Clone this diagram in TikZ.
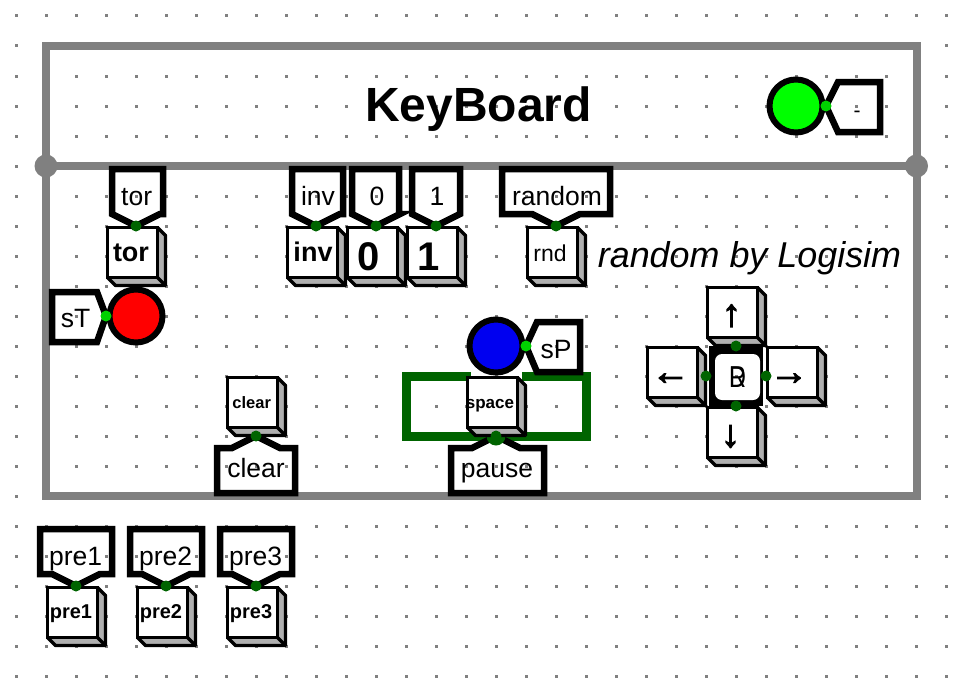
\documentclass[tikz,border=0pt]{standalone}
\usepackage{fontspec}
\setmainfont{Liberation Sans}
\newfontfamily\arrowfont[FakeBold=3]{Liberation Sans}
\definecolor{gridgray}{HTML}{808080}
\definecolor{framegray}{HTML}{808080}
\definecolor{shade}{HTML}{B0B0B0}
\definecolor{wiregreen}{HTML}{006400}
\definecolor{pingreen}{HTML}{00D200}
\tikzset{
  frameline/.style={draw=framegray,line width=8pt},
  tunnelline/.style={draw=black,line width=6.5pt,miter limit=10,line join=miter},
  keyface/.style={draw=black,fill=white,line width=3.4pt},
  keyside/.style={draw=black,fill=shade,line width=3.4pt,line join=round},
  led/.style={draw=black,line width=6pt},
  pindark/.style={fill=wiregreen,circle,inner sep=0pt,minimum size=11pt},
  pinbright/.style={fill=pingreen,circle,inner sep=0pt,minimum size=11pt},
  lab/.style={inner sep=0pt,anchor=base,font=\fontsize{26.5}{30}\selectfont},
  keylab/.style={inner sep=0pt,anchor=base},
  wire/.style={draw=wiregreen,line width=9pt,line join=miter}
}
% key body: #1 left, #2 top
\newcommand{\keybody}[2]{%
  \pgfmathsetmacro{\kl}{#1+1.5}\pgfmathsetmacro{\kr}{#1+51.5}%
  \pgfmathsetmacro{\kt}{#2+1.5}\pgfmathsetmacro{\kb}{#2+51.5}%
  \pgfmathsetmacro{\kR}{#1+59.5}\pgfmathsetmacro{\kB}{#2+59.5}%
  \path[keyside] (\kr,\kt) -- (\kR,\kt+8) -- (\kR,\kB) -- (\kl+8,\kB) -- (\kl,\kb) -- cycle;
  \draw[keyside] (\kr,\kb) -- (\kR,\kB);
  \path[keyface] (\kl,\kt) rectangle (\kr,\kb);
}
% labelled key: #1 name, #2 left, #3 top, #4 font, #5 label x, #6 baseline, #7 text
\newcommand{\keybtn}[7]{%
  \keybody{#2}{#3}
  \node[keylab,font=#4] (#1) at (#5,#6) {#7};
}
% arrow key: label centred on a point
\newcommand{\arrowkey}[6]{%
  \keybody{#2}{#3}
  \node[inner sep=0pt,font=\arrowfont\fontsize{38}{40}\selectfont] (#1) at (#4,#5) {#6};
}
% down-pointing tunnel: #1 name, #2 tip x, #3 tip y, #4 left, #5 right, #6 label x, #7 text
\newcommand{\tundown}[7]{%
  \pgfmathsetmacro{\tt}{#3-57}\pgfmathsetmacro{\ts}{#3-12}\pgfmathsetmacro{\tby}{#3-21}%
  \path[tunnelline] (#4,\tt) -- (#5,\tt) -- (#5,\ts) -- (#2+24,\ts) -- (#2,#3) -- (#2-24,\ts) -- (#4,\ts) -- cycle;
  \node[lab] (#1) at (#6,\tby) {#7};
}
\newcommand{\tunup}[7]{%
  \pgfmathsetmacro{\tt}{#3+57}\pgfmathsetmacro{\ts}{#3+12}\pgfmathsetmacro{\tby}{#3+41}%
  \path[tunnelline] (#4,\tt) -- (#5,\tt) -- (#5,\ts) -- (#2+24,\ts) -- (#2,#3) -- (#2-24,\ts) -- (#4,\ts) -- cycle;
  \node[lab] (#1) at (#6,\tby) {#7};
}
\begin{document}
\begin{tikzpicture}[x=1pt,y=-1pt]
\useasboundingbox (0,0) rectangle (963,693);
\fill[white] (0,0) rectangle (963,693);
% grid
\foreach \gx in {16,46,...,946} \foreach \gy in {16,46,...,676}
  \fill[gridgray] (\gx-1.5,\gy-1.5) rectangle (\gx+1.5,\gy+1.5);
% frame
\draw[frameline] (46,46) rectangle (916.5,496);
\draw[frameline] (46,166) -- (916.5,166);
\fill[framegray] (46,166) circle (11.5) (916.5,166) circle (11.5);
\node[inner sep=0pt,anchor=base,font=\fontsize{48}{52}\bfseries\selectfont] (title) at (478.5,121) {KeyBoard};
% wires
\draw[wire] (470.5,376.5) -- (406.5,376.5) -- (406.5,436.5) -- (586.5,436.5) -- (586.5,376.5) -- (522,376.5);
% tunnels above the keys
\tundown{ltor}{136}{226}{112}{163}{136.7}{tor}
\tundown{linv}{316}{226}{292}{343}{318}{inv}
\tundown{lzero}{376}{226}{352}{399}{377}{0}
\tundown{lone}{436}{226}{412}{460}{437}{1}
\tundown{lrandom}{556}{226}{502}{610}{557}{random}
\tundown{lpreone}{76}{586}{40}{112}{75.7}{pre1}
\tundown{lpretwo}{166}{586}{130}{202}{165.7}{pre2}
\tundown{lprethree}{256}{586}{220}{292}{255.7}{pre3}
% tunnels below the keys
\tunup{lclear}{256}{436}{217}{295}{256}{clear}
\tunup{lpause}{496}{436}{451}{544}{497}{pause}
\fill[wiregreen] (496,436) circle (9.5);
% side tunnels
\path[tunnelline] (106,316) -- (97,342) -- (52,342) -- (52,292) -- (97,292) -- cycle;
\node[lab] (lst) at (75.7,327) {sT};
\path[tunnelline] (526,346) -- (537,372) -- (580,372) -- (580,322) -- (537,322) -- cycle;
\node[lab] (lsp) at (556,358) {sP};
\path[tunnelline] (826,106) -- (838,132) -- (880,132) -- (880,82) -- (838,82) -- cycle;
\node[inner sep=0pt,anchor=base,font=\fontsize{21}{24}\selectfont] (ldash) at (857,117) {-};
% leds
\draw[led,fill=green] (796,106) circle (26.5);
\draw[led,fill=red] (136,316) circle (26.5);
\draw[led,fill={rgb,255:red,0;green,0;blue,240}] (496,346) circle (26.5);
% keys
\keybtn{ktor}{106}{226}{\fontsize{27}{30}\bfseries\selectfont}{131}{261}{tor}
\keybtn{kinv}{286}{226}{\fontsize{27}{30}\bfseries\selectfont}{313}{261.5}{inv}
\keybtn{kzero}{346}{226}{\fontsize{40}{43}\bfseries\selectfont}{369}{270}{0}
\keybtn{kone}{406}{226}{\fontsize{40}{43}\bfseries\selectfont}{429}{270}{1}
\keybtn{krnd}{526}{226}{\fontsize{23}{26}\selectfont}{550}{261.5}{rnd}
\keybtn{kclear}{226}{376}{\fontsize{16.5}{19}\bfseries\selectfont}{251.7}{408}{clear}
\keybtn{kspace}{466}{376}{\fontsize{17}{19}\bfseries\selectfont}{490}{408}{space}
\keybtn{kpreone}{46}{586}{\fontsize{20}{23}\bfseries\selectfont}{71}{618}{pre1}
\keybtn{kpretwo}{136}{586}{\fontsize{20}{23}\bfseries\selectfont}{161}{618}{pre2}
\keybtn{kprethree}{226}{586}{\fontsize{20}{23}\bfseries\selectfont}{251}{618}{pre3}
\arrowkey{kup}{706}{286}{731.5}{315.7}{↑}
\arrowkey{kleft}{646}{346}{670.5}{379}{←}
\arrowkey{kright}{766}{346}{789}{379}{→}
\arrowkey{kdown}{706}{406}{730.5}{436.5}{↓}
% centre of the pad
\fill[black] (709,346) rectangle (763,406);
\fill[white,rounded corners=7pt] (715,354) rectangle (760,400);
\fill[gridgray] (734.5,374.5) rectangle (737.5,377.5);
\foreach \ch/\nm in {R/a,D/b}
  \node[inner sep=0pt,anchor=base west,xscale=.78,font=\fontsize{30}{32}\selectfont] (pad\nm) at (729,387) {\ch};
% italic note
\node[inner sep=0pt,anchor=base,font=\fontsize{35.9}{38}\itshape\selectfont] (note) at (749.5,267) {random by Logisim};
% pins
\foreach \px/\py/\nm in {136/226/a,316/226/b,376/226/c,436/226/d,556/226/e,76/586/f,166/586/g,256/586/h,256/436/i,496/436/j,736/346/k,736/406/l,706/376/m,766/376/n}
  \node[pindark] (pin\nm) at (\px,\py) {};
\foreach \px/\py/\nm in {106/316/o,526/346/p,826/106/q}
  \node[pinbright] (pin\nm) at (\px,\py) {};
\end{tikzpicture}
\end{document}
